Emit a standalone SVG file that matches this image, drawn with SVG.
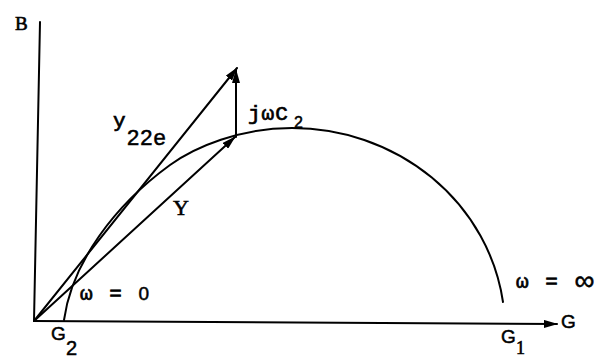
<svg xmlns="http://www.w3.org/2000/svg" width="614" height="360" viewBox="0 0 614 360">
<style>
.ln{stroke:#000;stroke-width:2;fill:none;stroke-linecap:round}
.t{font-family:'Liberation Mono','DejaVu Sans Mono',monospace;font-size:21px;fill:#000;stroke:#000;stroke-width:0.7}
.sf{font-family:'Liberation Serif','DejaVu Serif',serif;fill:#000;stroke:#000;stroke-width:0.6}
.sn{font-family:'Liberation Sans','DejaVu Sans',sans-serif;fill:#000;stroke:#000;stroke-width:0.5}
</style>
<defs>
<marker id="ah" viewBox="0 0 14 8" refX="13" refY="4" markerWidth="14" markerHeight="8" markerUnits="userSpaceOnUse" orient="auto">
<path d="M0,0 L14,4 L0,8 Z" fill="#000"/>
</marker>
</defs>
<rect width="614" height="360" fill="#fff"/>
<g id="axes">
<line class="ln" x1="40" y1="22" x2="34" y2="321"/>
<line class="ln" x1="34" y1="321" x2="557" y2="324" marker-end="url(#ah)"/>
</g>
<g id="arc">
<path class="ln" d="M64,320 C72,262 115,205 170,165 C195,147 240,128 292,128 A213,202 0 0 1 503,302"/>
</g>
<g id="connectors">
<line class="ln" x1="34" y1="321" x2="237" y2="68" marker-end="url(#ah)"/>
<line class="ln" x1="34" y1="321" x2="235" y2="137" marker-end="url(#ah)"/>
<line class="ln" x1="236" y1="137" x2="236" y2="70" marker-end="url(#ah)"/>
</g>
<g id="labels">
<text class="sf" x="15" y="30" font-size="19">B</text>
<text class="t" x="113" y="127" font-size="23">y</text>
<text class="sn" x="127" y="145" font-size="22" letter-spacing="1">22e</text>
<text class="t" x="248" y="120" font-size="22" letter-spacing="1">jωC</text>
<text class="sn" x="294" y="128" font-size="16">2</text>
<text class="sf" x="173" y="215" font-size="22">Y</text>
<text class="t" x="80" y="300" letter-spacing="2">ω = <tspan class="sn" font-size="19">0</tspan></text>
<text class="sn" x="51" y="340" font-size="19">G</text>
<text class="sn" x="66" y="355" font-size="20">2</text>
<text class="t" x="516" y="288" letter-spacing="2">ω = <tspan class="sn" font-size="28" letter-spacing="0" dy="2">∞</tspan></text>
<text class="sn" x="561" y="328" font-size="19">G</text>
<text class="sn" x="501" y="343" font-size="19">G</text>
<text class="sf" x="516" y="354" font-size="18">1</text>
</g>
</svg>
